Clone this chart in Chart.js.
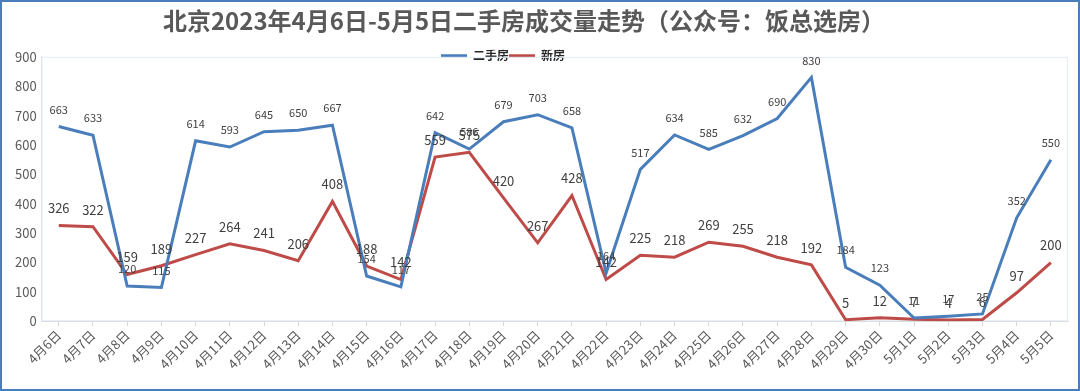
<!DOCTYPE html>
<html>
<head>
<meta charset="utf-8">
<script src="https://cdn.jsdelivr.net/npm/chart.js@4.4.1/dist/chart.umd.min.js"></script>
<style>
  html, body { margin: 0; padding: 0; background: #fff; }
  #wrap {
    width: 1080px; height: 391px; box-sizing: border-box;
    border: 2px solid #4a7ebb; background: #fff;
  }
  #wrap canvas { display: block; }
</style>
</head>
<body>
<div id="wrap"><canvas id="trend" width="1076" height="387"></canvas></div>
<script>
// 日期（4月6日 - 5月5日）
const days = ['4月6日', '4月7日', '4月8日', '4月9日', '4月10日', '4月11日', '4月12日', '4月13日',
  '4月14日', '4月15日', '4月16日', '4月17日', '4月18日', '4月19日', '4月20日', '4月21日',
  '4月22日', '4月23日', '4月24日', '4月25日', '4月26日', '4月27日', '4月28日', '4月29日',
  '4月30日', '5月1日', '5月2日', '5月3日', '5月4日', '5月5日'];

// 二手房 成交量
const secondHand = [663, 633, 120, 115, 614, 593, 645, 650, 667, 154, 117, 642, 586, 679, 703,
  658, 164, 517, 634, 585, 632, 690, 830, 184, 123, 11, 17, 25, 352, 550];

// 新房 成交量
const newHomes = [326, 322, 159, 189, 227, 264, 241, 206, 408, 188, 142, 559, 575, 420, 267,
  428, 142, 225, 218, 269, 255, 218, 192, 5, 12, 7, 4, 6, 97, 200];

const yTicks = [0, 100, 200, 300, 400, 500, 600, 700, 800, 900];

const FONT = '"Noto Sans CJK SC", "Noto Sans", sans-serif';

// Excel-style placement: legend sits right on top of the plot, title/legend a bit left of centre
const headerNudge = {
  id: 'headerNudge',
  afterLayout(chart) {
    const lg = chart.legend, tb = chart.titleBlock;
    if (lg) { lg.top += 15; lg.bottom += 15; lg.left -= 36; lg.right -= 36; }
    if (tb) { tb.left -= 30; }
  }
};

// draws the value above every point, plus the faint plot-area frame
const valueLabels = {
  id: 'valueLabels',
  beforeDatasetsDraw(chart) {
    const { ctx, chartArea: a } = chart;
    ctx.save();
    ctx.strokeStyle = '#e3ebf5';
    ctx.lineWidth = 1;
    ctx.strokeRect(a.left + 0.5, a.top + 0.5, a.right - a.left - 1, a.bottom - a.top - 1);
    ctx.restore();
  },
  afterDatasetsDraw(chart) {
    const { ctx } = chart;
    const sizes = [11, 13];
    ctx.save();
    ctx.textAlign = 'center';
    ctx.textBaseline = 'middle';
    ctx.fillStyle = '#404040';
    chart.data.datasets.forEach((ds, i) => {
      ctx.font = sizes[i] + 'px ' + FONT;
      chart.getDatasetMeta(i).data.forEach((pt, j) => {
        ctx.fillText(String(ds.data[j]), pt.x, pt.y - 17);
      });
    });
    ctx.restore();
  }
};

new Chart(document.getElementById('trend'), {
  type: 'line',
  data: {
    labels: days,
    datasets: [
      { label: '二手房', data: secondHand, borderColor: '#4a7ebb', backgroundColor: '#4a7ebb',
        borderWidth: 3, pointRadius: 0, tension: 0 },
      { label: '新房', data: newHomes, borderColor: '#be4b48', backgroundColor: '#be4b48',
        borderWidth: 3, pointRadius: 0, tension: 0 }
    ]
  },
  options: {
    responsive: false,
    animation: false,
    layout: { padding: { left: 8, right: 10, top: 0, bottom: 16 } },
    plugins: {
      title: {
        display: true,
        text: '北京2023年4月6日-5月5日二手房成交量走势（公众号：饭总选房）',
        color: '#595959',
        font: { family: FONT, size: 24, weight: 'bold' },
        padding: { top: 4, bottom: 0 }
      },
      legend: {
        display: true,
        labels: {
          usePointStyle: true,
          pointStyle: 'line',
          pointStyleWidth: 26,
          color: '#262626',
          font: { family: FONT, size: 12, weight: 'bold' },
          padding: 0
        }
      },
      tooltip: { enabled: false }
    },
    scales: {
      x: {
        offset: true,
        grid: { display: true, drawOnChartArea: false, drawTicks: true, tickLength: 5, color: '#d9d9d9' },
        border: { display: true, color: '#d9d9d9' },
        ticks: {
          color: '#595959', font: { family: FONT, size: 13 },
          minRotation: 45, maxRotation: 45, autoSkip: false, padding: 1
        }
      },
      y: {
        min: 0, max: 900,
        afterBuildTicks(axis) { axis.ticks = yTicks.map(v => ({ value: v })); },
        grid: { display: false, drawTicks: false },
        border: { display: true, color: '#dbe5f1' },
        ticks: { color: '#595959', font: { family: FONT, size: 13 }, padding: 5 }
      }
    }
  },
  plugins: [headerNudge, valueLabels]
});
</script>
</body>
</html>
